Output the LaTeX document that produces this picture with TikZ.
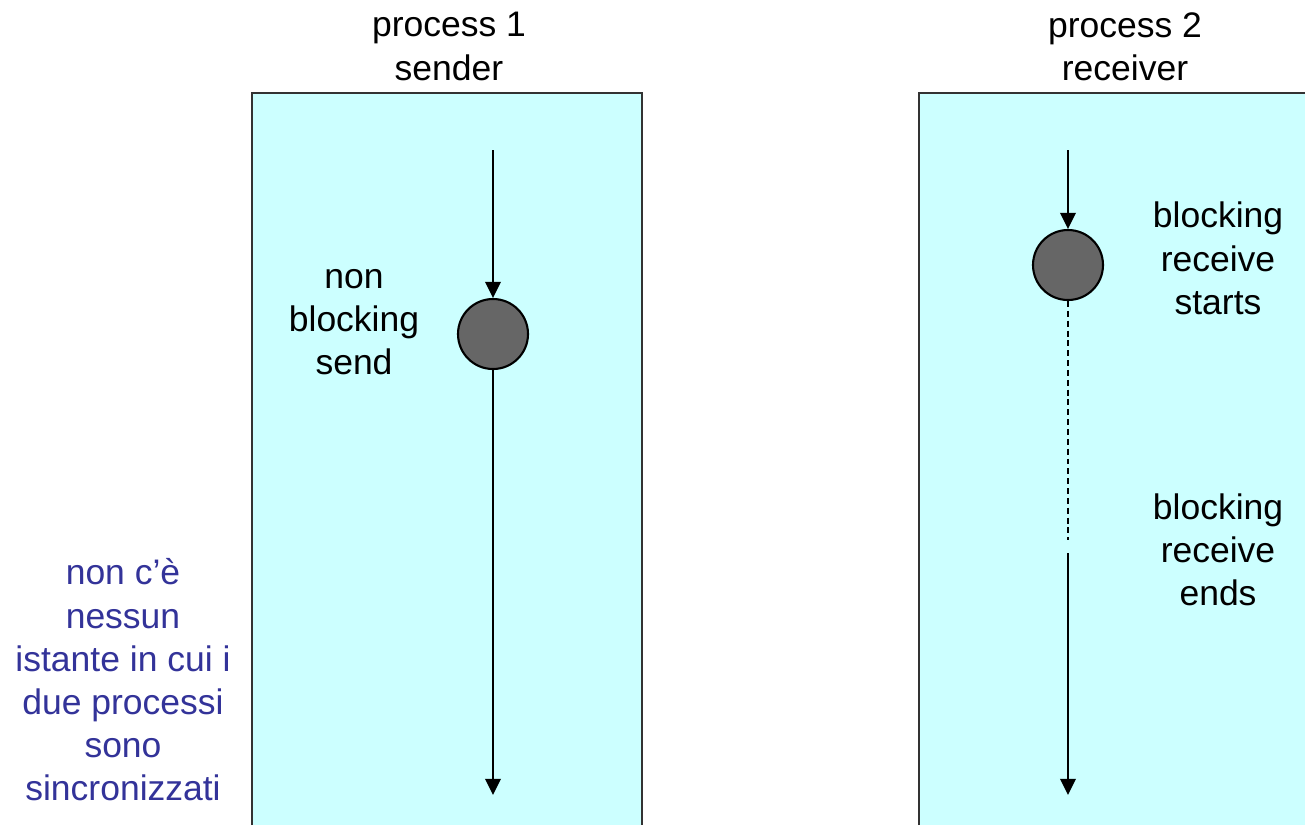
\documentclass[tikz,border=0pt]{standalone}
\usepackage{fontspec}
\setmainfont{Liberation Sans}
\usetikzlibrary{arrows.meta}
\definecolor{procbg}{HTML}{CCFFFF}
\definecolor{notecol}{HTML}{333399}
\definecolor{eventcol}{HTML}{666666}

\begin{document}
\begin{tikzpicture}[
    txt/.style={align=center, font=\fontsize{10.1}{12.3}\selectfont},
    event/.style={circle, draw=black, fill=eventcol, line width=0.6pt, minimum size=0.7cm, inner sep=0pt},
    flow/.style={line width=0.6pt, -{Triangle[width=4.4pt,length=4.6pt]}}
  ]
  \useasboundingbox (0,0) rectangle (13.05,-8.25);

  % Draw the two process boxes
  \filldraw[fill=procbg, draw=black!80, line width=0.6pt] (2.52,-8.25) -- (2.52,-0.93) -- (6.42,-0.93) -- (6.42,-8.25);
  \fill[procbg] (9.19,-8.25) rectangle (13.1,-0.93);
  \draw[black!80, line width=0.6pt] (9.19,-8.25) -- (9.19,-0.93) -- (13.1,-0.93);

  \node[txt] (p1) at (4.49,-0.465) {process 1\\sender};
  \node[txt] (p2) at (11.25,-0.465) {process 2\\receiver};

  % Draw the sender time line
  \coordinate (s1) at (4.93,-1.5);
  \coordinate (s2) at (4.93,-7.95);
  \node[event] (send) at (4.93,-3.34) {};
  \draw[flow] (s1) -- (send.north);
  \draw[flow] (send.south) -- (s2);

  \node[txt] (sendlab) at (3.54,-3.22) {non\\blocking\\send};

  % Draw the receiver time line
  \coordinate (r1) at (10.68,-1.5);
  \coordinate (r2) at (10.68,-5.4);
  \coordinate (r3) at (10.68,-5.53);
  \coordinate (r4) at (10.68,-7.95);
  \node[event] (recv) at (10.68,-2.65) {};
  \draw[flow] (r1) -- (recv.north);
  \draw[line width=0.5pt, dash pattern=on 1.7pt off 1.1pt] (recv.south) -- (r2);
  \draw[flow] (r3) -- (r4);

  \node[txt] (startlab) at (12.18,-2.585) {blocking\\receive\\starts};
  \node[txt] (endlab) at (12.18,-5.5) {blocking\\receive\\ends};

  % Note on the left
  \node[txt, text=notecol] (note) at (1.23,-6.8) {non c’è\\nessun\\istante in cui i\\due processi\\sono\\sincronizzati};
\end{tikzpicture}
\end{document}
